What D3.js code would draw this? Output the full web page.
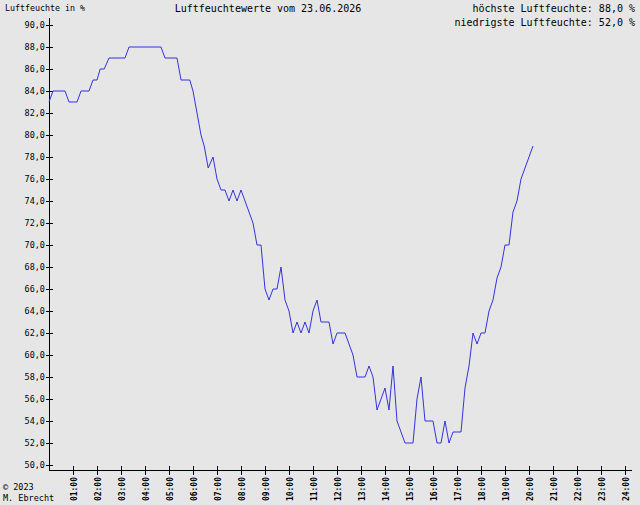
<!DOCTYPE html>
<html><head><meta charset="utf-8">
<script src="https://cdn.jsdelivr.net/npm/d3@7"></script>
<style>body{margin:0;background:#e6e6e6}svg{display:block}text{font-family:"DejaVu Sans Mono",monospace;font-size:10px;fill:#000}</style>
</head><body><svg id="c" width="640" height="505"></svg>
<script>
// times in minutes after midnight, humidity in %
const times =    [0,10,40,50,70,80,100,110,120,128,138,150,190,200,280,290,320,330,352,360,370,380,388,398,410,420,430,440,450,460,470,480,490,500,510,520,530,540,550,560,570,580,590,600,610,620,630,640,650,660,670,680,700,710,720,740,750,760,770,790,800,810,820,830,840,850,860,870,880,890,910,920,930,940,960,970,980,990,1000,1010,1030,1040,1050,1060,1070,1080,1090,1100,1110,1120,1130,1140,1150,1160,1170,1180,1190,1200,1210];
const humidity = [83,84,84,83,83,84,84, 85, 85, 86, 86, 87, 87, 88, 88, 87, 87, 85, 85, 84, 82, 80, 79, 77, 78, 76, 75, 75, 74, 75, 74, 75, 74, 73, 72, 70, 70, 66, 65, 66, 66, 68, 65, 64, 62, 63, 62, 63, 62, 64, 65, 63, 63, 61, 62, 62, 61, 60, 58, 58, 59, 58, 55, 56, 57, 55, 59, 54, 53, 52, 52, 56, 58, 54, 54, 52, 52, 54,  52,  53,  53,  57,  59,  62,  61,  62,  62,  64,  65,  67,  68,  70,  70,  73,  74,  76,  77,  78,  79];
const hourLabels = d3.range(1,25).map(h => String(h).padStart(2,"0")+":00");
const yTicks = d3.range(50,91,2);
const title = "Luftfeuchtewerte vom 23.06.2026";
const maxText = "höchste Luftfeuchte: 88,0 %";
const minText = "niedrigste Luftfeuchte: 52,0 %";

const svg = d3.select("#c");
const x = d3.scaleLinear().domain([0,1440]).range([49,625]);
const y = d3.scaleLinear().domain([50,90]).range([465,25]);
const ax = 49, axY = 470;

svg.append("line").attr("x1",ax+0.5).attr("x2",ax+0.5).attr("y1",18).attr("y2",axY).attr("stroke","#000");
svg.append("line").attr("x1",ax).attr("x2",632).attr("y1",axY+0.5).attr("y2",axY+0.5).attr("stroke","#000");

yTicks.forEach(v=>{
  svg.append("line").attr("x1",ax-3).attr("x2",ax+4).attr("y1",y(v)+0.5).attr("y2",y(v)+0.5).attr("stroke","#000");
  svg.append("text").attr("x",45).attr("y",y(v)+3).attr("text-anchor","end").style("font-size","8.5px").text(v.toFixed(1).replace(".",","));
});
hourLabels.forEach((l,i)=>{
  const xp = Math.round(x((i+1)*60))+0.5;
  svg.append("line").attr("x1",xp).attr("x2",xp).attr("y1",axY-4).attr("y2",axY+5).attr("stroke","#000");
  svg.append("text").attr("transform",`translate(${xp+3},${axY+7}) rotate(-90)`).attr("text-anchor","end").style("font-size","8px").style("font-weight","bold").text(l);
});

const pts = times.map((t,i)=>[x(t),y(humidity[i])]);
svg.append("path").attr("d",d3.line()(pts)).attr("fill","none").attr("stroke","#3333dd").attr("stroke-width",1);

svg.append("text").attr("x",5).attr("y",11).style("font-size","8.3px").text("Luftfeuchte in %");
svg.append("text").attr("x",268).attr("y",12).attr("text-anchor","middle").text(title);
svg.append("text").attr("x",635).attr("y",12).attr("text-anchor","end").text(maxText);
svg.append("text").attr("x",635).attr("y",26).attr("text-anchor","end").text(minText);
svg.append("text").attr("x",3).attr("y",490).style("font-size","8.5px").text("© 2023");
svg.append("text").attr("x",3).attr("y",501).style("font-size","8.5px").text("M. Ebrecht");
</script></body></html>
